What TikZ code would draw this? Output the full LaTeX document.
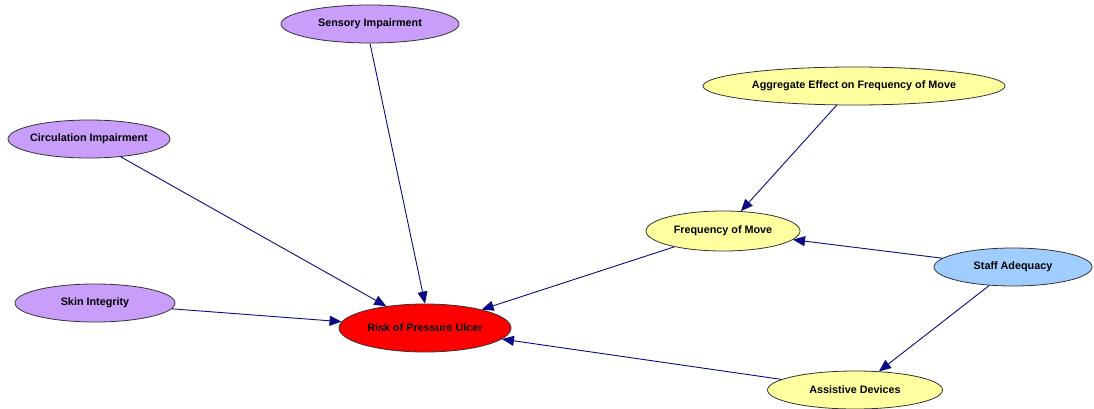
\documentclass[tikz,border=0pt]{standalone}
\usepackage{fontspec}
\setmainfont{Liberation Sans}
\usetikzlibrary{shapes.geometric,arrows.meta}
\definecolor{lav}{RGB}{200,158,250}
\definecolor{pale}{RGB}{255,255,160}
\definecolor{sky}{RGB}{160,205,255}
\definecolor{edgeblue}{RGB}{10,10,130}
\tikzset{
  var/.style={ellipse, draw=black!80, line width=0.8pt, inner sep=0pt,
    font=\bfseries\fontsize{10.8}{12}\selectfont},
  link/.style={draw=edgeblue, line width=0.9pt,
    -{Triangle[length=12pt,width=10pt]}}
}
\begin{document}
\begin{tikzpicture}[x=1pt,y=-1pt]
\useasboundingbox (0,0) rectangle (1094,409);
\node[var, fill=lav, minimum width=178pt, minimum height=38pt] (sens) at (370,24) {Sensory Impairment};
\node[var, fill=lav, minimum width=162pt, minimum height=38pt, inner xsep=-6pt] (circ) at (89,139) {Circulation Impairment};
\node[var, fill=lav, minimum width=160pt, minimum height=38pt] (skin) at (95,303) {Skin Integrity};
\node[var, fill=red, minimum width=172pt, minimum height=48pt] (risk) at (425,328) {Risk of Pressure Ulcer};
\node[var, fill=pale, minimum width=302pt, minimum height=38pt] (aggr) at (854,86) {Aggregate Effect on Frequency of Move};
\node[var, fill=pale, minimum width=154pt, minimum height=40pt] (freq) at (723,231) {Frequency of Move};
\node[var, fill=sky, minimum width=158pt, minimum height=38pt] (staff) at (1013,267) {Staff Adequacy};
\node[var, fill=pale, minimum width=175pt, minimum height=38pt] (assist) at (855,390) {Assistive Devices};

\draw[link] (sens.south) -- (risk.north);
\draw[link] (circ) -- (risk);
\draw[link] (skin) -- (risk);
\draw[link] (freq) -- (risk);
\draw[link] (assist) -- (risk);
\draw[link] (aggr) -- (freq);
\draw[link] (staff) -- (freq);
\draw[link] (staff) -- (assist);
\end{tikzpicture}
\end{document}
